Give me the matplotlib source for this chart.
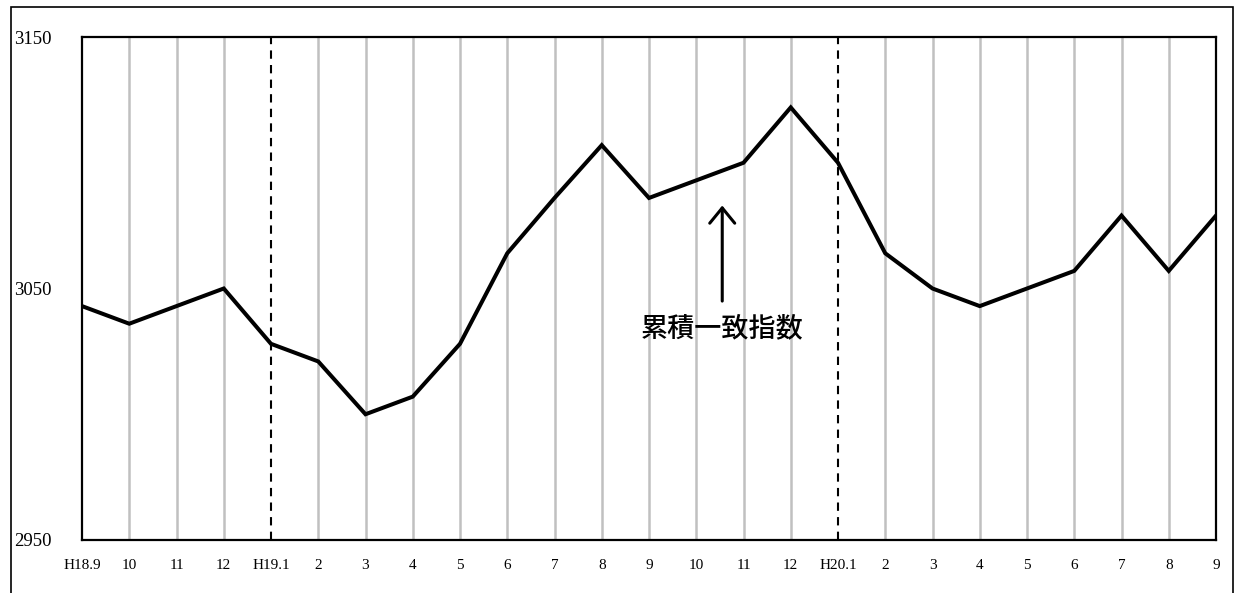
import matplotlib
matplotlib.use("Agg")
import matplotlib.pyplot as plt
from matplotlib.patches import Rectangle

categories = ["H18.9", "10", "11", "12", "H19.1", "2", "3", "4", "5", "6", "7", "8",
              "9", "10", "11", "12", "H20.1", "2", "3", "4", "5", "6", "7", "8", "9"]
values = [3043, 3036, 3043, 3050, 3028, 3021, 3000, 3007, 3028, 3064, 3086, 3107,
          3086, 3093, 3100, 3122, 3100, 3064, 3050, 3043, 3050, 3057, 3079, 3057, 3079]
yticks = [2950, 3050, 3150]
year_starts = ["H19.1", "H20.1"]
label = "累積一致指数"

W, H = 1236, 593
fig = plt.figure(figsize=(W / 100, H / 100), dpi=100)
ax = fig.add_axes([82 / W, 1 - 540 / H, (1216 - 82) / W, (540 - 37) / H])

x = list(range(len(categories)))
for i, c in enumerate(categories):
    if c in year_starts:
        ax.axvline(i, color="black", lw=1.5, ls=(0, (4, 3)), zorder=1)
    elif 0 < i < len(categories) - 1:
        ax.axvline(i, color="#c0c0c0", lw=1.8, zorder=1)

ax.plot(x, values, color="black", lw=2.9, zorder=3, solid_joinstyle="miter")

ax.set_xlim(0, len(categories) - 1)
ax.set_ylim(yticks[0], yticks[-1])
ax.set_yticks(yticks)
ax.set_xticks(x)
ax.set_xticklabels(categories, fontsize=11, family=["Liberation Serif", "Noto Sans CJK JP"])
ax.set_yticklabels([str(v) for v in yticks], fontsize=13.5, family="Liberation Serif")
ax.tick_params(axis="x", length=0, pad=14)
ax.tick_params(axis="y", length=0, pad=49)
for lab in ax.get_yticklabels():
    lab.set_horizontalalignment("left")
for s in ax.spines.values():
    s.set_linewidth(1.6)
    s.set_color("black")

ax.annotate("", xy=(13.55, 3083), xytext=(13.55, 3045),
            arrowprops=dict(arrowstyle="->,head_length=1.1,head_width=0.9", lw=2.2,
                            color="black", shrinkA=0, shrinkB=0))
ax.text(13.55, 3034, label, ha="center", va="center", fontsize=19.5, fontweight="medium",
        family=["Noto Sans CJK JP", "DejaVu Sans"])

fig.add_artist(Rectangle((11 / W, -0.1), (1233 - 11) / W, 1.1 - 7 / H,
                         transform=fig.transFigure, fill=False, lw=1.2, ec="black"))

fig.savefig("out.png", dpi=100)
